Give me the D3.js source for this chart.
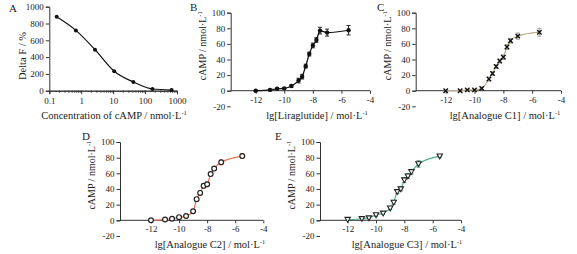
<!DOCTYPE html>
<html>
<head>
<meta charset="utf-8">
<script src="https://cdn.jsdelivr.net/npm/d3@7"></script>
<style>
  body { margin: 0; background: #fff; }
  svg text { font-family: "Liberation Serif", "DejaVu Serif", serif !important; fill: #222; }
</style>
</head>
<body>
<div id="chart"></div>
<script>
// panel A: standard curve
const concA = [0.17, 0.68, 2.7, 10.8, 43, 170, 680];
const deltaF = [880, 718, 488, 232, 104, 20, 8];
const ticksA = [0.1, 1, 10, 100, 1000];
const ticksAy = [0, 200, 400, 600, 800, 1000];

// panels B-E: dose response
const lgDose = [-12, -11, -10.5, -10, -9.5, -9, -8.75, -8.5, -8.25, -8, -7.75, -7.5, -7, -5.5];
const campB = [0, 1, 2.5, 3, 6, 13, 18, 31.5, 47, 58, 65, 77, 74.5, 77.5];
const errB  = [0.8, 0.8, 1, 1, 1.5, 3, 3, 2.5, 2.5, 3, 3, 4.3, 4.5, 6];
const campC = [0, 0, 1, 1, 3, 15, 22, 31, 38, 43, 56, 64, 70, 75];
const errC  = [0.5, 0.5, 0.8, 0.8, 1.5, 2.5, 2.5, 2.5, 2.5, 3, 3, 3, 4, 5];
const campD = [0, 1, 2, 4, 5.5, 11.5, 27, 35, 44, 46, 59, 66, 74, 82];
const errD  = [0.5, 0.8, 0.8, 1, 1.5, 2, 2, 2.5, 3, 3, 2.5, 2.5, 3, 3];
const campE = [1, 2, 3, 7, 9, 15.5, 23, 36.5, 40, 51.5, 56.5, 62, 72, 82];
const errE  = [0.5, 0.5, 0.8, 1.5, 1.5, 2, 2.5, 2.5, 2.5, 3, 3, 3, 4, 2];
const doseTicks = [-12, -10, -8, -6, -4];
const campTicks = [-20, 0, 20, 40, 60, 80, 100];

const svg = d3.select("#chart").append("svg")
  .attr("width", 577).attr("height", 254);

function axisStyle(g) {
  g.attr("font-family", null);
  g.selectAll("path, line").attr("stroke", "#333").attr("stroke-width", 1);
  g.selectAll("text").attr("font-size", "9px").attr("fill", "#333");
}

function unitTitle(sel, text) {
  sel.append("tspan").text(text);
  sel.append("tspan").text("-1").attr("font-size", "6.5px").attr("dy", -4);
}

// ---------- A ----------
{
  const x = d3.scaleLog().domain([0.1, 1000]).range([49.3, 177]);
  const y = d3.scaleLinear().domain([0, 1000]).range([90.7, 6.7]);
  const g = svg.append("g");

  const minor = [];
  for (let d = 0.1; d < 1000; d *= 10)
    for (let k = 2; k < 10; k++) minor.push(d * k);
  g.append("g").attr("transform", "translate(0,90.7)")
    .call(d3.axisBottom(x).tickValues(minor).tickSize(2).tickFormat(""))
    .call(axisStyle);
  g.append("g").attr("transform", "translate(0,90.7)")
    .call(d3.axisBottom(x).tickValues(ticksA).tickSize(3.5).tickPadding(3)
      .tickFormat(d => d < 1 ? "0.1" : String(Math.round(d))))
    .call(axisStyle);
  g.append("g").attr("transform", "translate(49.3,0)")
    .call(d3.axisLeft(y).tickValues(ticksAy).tickSize(3.5).tickPadding(2)
      .tickFormat(d => String(d)))
    .call(axisStyle);

  const pts = concA.map((c, i) => [c, deltaF[i]]);
  g.append("path").datum(pts)
    .attr("fill", "none").attr("stroke", "#111").attr("stroke-width", 1.2)
    .attr("d", d3.line().x(d => x(d[0])).y(d => y(d[1])).curve(d3.curveMonotoneX));
  g.selectAll("circle").data(pts).join("circle")
    .attr("cx", d => x(d[0])).attr("cy", d => y(d[1])).attr("r", 2).attr("fill", "#111");

  g.append("text").attr("x", 9).attr("y", 12).attr("font-size", "11px").text("A");
  g.append("text").attr("transform", "translate(26,56) rotate(-90)")
    .attr("text-anchor", "middle").attr("font-size", "10.5px").text("Delta F / %");
  const t = g.append("text").attr("x", 114).attr("y", 119)
    .attr("text-anchor", "middle").attr("font-size", "10.5px");
  unitTitle(t, "Concentration of cAMP / nmol·L");
}

// ---------- B-E ----------
const panels = [
  { letter: "B", name: "Liraglutide", vals: campB, errs: errB, x0: 230.7, x12: 255.7, x4: 370,
    y100: 12.7, y0: 90.7, lx: 190, ly: 11, titleX: 317, titleY: 119,
    line: "#111", err: "#111", marker: "dot" },
  { letter: "C", name: "Analogue C1", vals: campC, errs: errC, x0: 415.7, x12: 445.7, x4: 561,
    y100: 12.7, y0: 90.7, lx: 377, ly: 11, titleX: 505, titleY: 119,
    line: "#b9ae86", err: "#9d9a8c", marker: "cross" },
  { letter: "D", name: "Analogue C2", vals: campD, errs: errD, x0: 120, x12: 151, x4: 263.3,
    y100: 142, y0: 220.3, lx: 82, ly: 140, titleX: 210, titleY: 248,
    line: "#e5704c", err: "#c76a4c", marker: "circle" },
  { letter: "E", name: "Analogue C3", vals: campE, errs: errE, x0: 320, x12: 347.7, x4: 461,
    y100: 142, y0: 220.3, lx: 275, ly: 140, titleX: 407, titleY: 248,
    line: "#4fae94", err: "#2f7e6c", marker: "tri" }
];

panels.forEach(p => {
  const x = d3.scaleLinear().domain([-12, -4]).range([p.x12, p.x4]);
  const y = d3.scaleLinear().domain([0, 100]).range([p.y0, p.y100]);
  const g = svg.append("g");

  g.append("g").attr("transform", `translate(${p.x0},0)`)
    .call(d3.axisLeft(y).tickValues(campTicks).tickSize(3.5).tickPadding(2)
      .tickFormat(d => String(d)))
    .call(axisStyle);
  const xa = g.append("g").attr("transform", `translate(0,${p.y0})`)
    .call(d3.axisBottom(x).tickValues(doseTicks).tickSize(3).tickPadding(2.5)
      .tickFormat(d => String(d)))
    .call(axisStyle);
  // axis line starts at the y axis
  xa.select(".domain").attr("d", `M${p.x0},0H${p.x4}`);

  const pts = lgDose.map((d, i) => [d, p.vals[i], p.errs[i]]);
  g.append("path").datum(pts)
    .attr("fill", "none").attr("stroke", p.line).attr("stroke-width", 1.2)
    .attr("d", d3.line().x(d => x(d[0])).y(d => y(d[1])).curve(d3.curveMonotoneX));

  const eb = g.append("g").attr("stroke", p.err).attr("stroke-width", 0.9);
  pts.forEach(d => {
    const cx = x(d[0]), t = y(d[1] + d[2]), b = y(d[1] - d[2]);
    eb.append("line").attr("x1", cx).attr("x2", cx).attr("y1", t).attr("y2", b);
    eb.append("line").attr("x1", cx - 2).attr("x2", cx + 2).attr("y1", t).attr("y2", t);
    eb.append("line").attr("x1", cx - 2).attr("x2", cx + 2).attr("y1", b).attr("y2", b);
  });

  const m = g.append("g");
  pts.forEach(d => {
    const cx = x(d[0]), cy = y(d[1]);
    if (p.marker === "dot") {
      m.append("circle").attr("cx", cx).attr("cy", cy).attr("r", 2.2).attr("fill", "#111");
    } else if (p.marker === "cross") {
      m.append("path").attr("d", `M${cx - 2.2},${cy - 2.2}L${cx + 2.2},${cy + 2.2}M${cx - 2.2},${cy + 2.2}L${cx + 2.2},${cy - 2.2}`)
        .attr("stroke", "#111").attr("stroke-width", 1.4);
    } else if (p.marker === "circle") {
      m.append("circle").attr("cx", cx).attr("cy", cy).attr("r", 2.4)
        .attr("fill", "#fff").attr("stroke", "#222").attr("stroke-width", 1.2);
    } else {
      m.append("path").attr("d", `M${cx - 2.7},${cy - 2.1}L${cx + 2.7},${cy - 2.1}L${cx},${cy + 2.7}Z`)
        .attr("fill", "#fff").attr("stroke", "#222").attr("stroke-width", 1.1);
    }
  });

  g.append("text").attr("x", p.lx).attr("y", p.ly).attr("font-size", "11px").text(p.letter);
  const yt = g.append("text")
    .attr("transform", `translate(${p.x0 - 25},${(p.y100 + p.y0) / 2 - 6}) rotate(-90)`)
    .attr("text-anchor", "middle").attr("font-size", "10px");
  unitTitle(yt, "cAMP / nmol·L");
  const xt = g.append("text").attr("x", p.titleX).attr("y", p.titleY)
    .attr("text-anchor", "middle").attr("font-size", "10.5px");
  unitTitle(xt, "lg[" + p.name + "] / mol·L");
});
</script>
</body>
</html>
